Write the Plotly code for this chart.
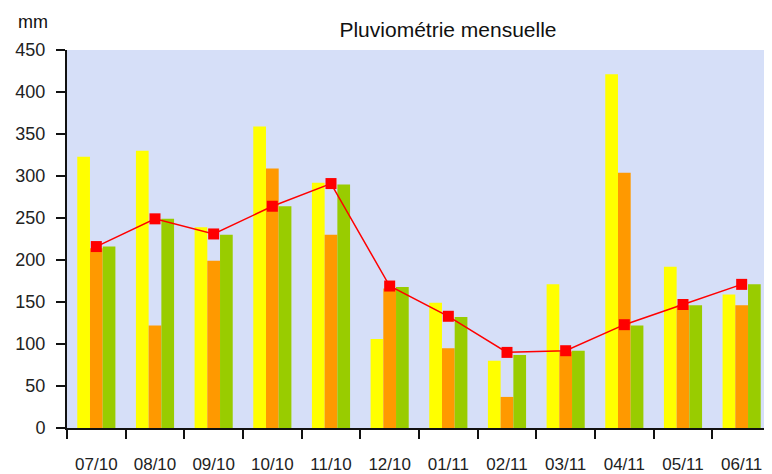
import plotly.graph_objects as go

months = ["07/10", "08/10", "09/10", "10/10", "11/10", "12/10",
          "01/11", "02/11", "03/11", "04/11", "05/11", "06/11"]
yellow_vals = [323, 330, 239, 359, 292, 106, 149, 80, 171, 421, 192, 159]
orange_vals = [214, 122, 199, 309, 230, 166, 95, 37, 91, 304, 146, 146]
green_vals = [216, 249, 230, 264, 290, 168, 132, 87, 92, 122, 146, 171]
line_vals = [216, 249, 231, 264, 291, 169, 133, 90, 92, 123, 147, 171]
y_ticks = [0, 50, 100, 150, 200, 250, 300, 350, 400, 450]

FONT = "Liberation Sans, Arial, sans-serif"
W, H = 764, 466  # page body has an 8px margin

fig = go.Figure()
fig.add_trace(go.Bar(x=months, y=yellow_vals, marker=dict(color="#ffff00", line=dict(width=0)), name="A"))
fig.add_trace(go.Bar(x=months, y=orange_vals, marker=dict(color="#ff9900", line=dict(width=0)), name="B"))
fig.add_trace(go.Bar(x=months, y=green_vals, marker=dict(color="#99cc00", line=dict(width=0)), name="C"))
fig.add_trace(go.Scatter(x=months, y=line_vals, mode="lines+markers",
                         line=dict(color="#ff0000", width=1.5),
                         marker=dict(symbol="square", size=11, color="#ff0000"),
                         name="D"))

fig.update_layout(
    width=W, height=H,
    margin=dict(l=59, r=1, t=42, b=46, autoexpand=False),
    paper_bgcolor="white",
    plot_bgcolor="#d6dff8",
    showlegend=False,
    barmode="group",
    bargap=0.35,
    bargroupgap=0,
    font=dict(family=FONT, size=17, color="#222222"),
    title=dict(text="Pluviométrie mensuelle", font=dict(family=FONT, size=21, color="#111111"),
               x=440/W, xref="container", xanchor="center",
               y=1 - 22/H, yref="container", yanchor="middle"),
    annotations=[dict(text="mm", xref="paper", yref="paper", x=-0.072, y=1.075,
                      xanchor="left", yanchor="middle", showarrow=False,
                      font=dict(family=FONT, size=18, color="#111111"))],
)
fig.update_xaxes(type="category", range=[-0.5, len(months) - 0.5],
                 showline=True, linecolor="#111111", linewidth=2,
                 ticks="outside", tickson="boundaries", ticklen=9, tickwidth=2, tickcolor="#111111",
                 showgrid=False, ticklabelstandoff=20, tickfont=dict(size=17), automargin=False)
fig.update_yaxes(range=[0, 450], tickvals=y_ticks, showline=True, linecolor="#111111", linewidth=2,
                 ticks="outside", ticklen=9, tickwidth=2, tickcolor="#111111",
                 showgrid=False, zeroline=False, ticklabelstandoff=7, tickfont=dict(size=18),
                 automargin=False)

fig.write_html("out.html")
